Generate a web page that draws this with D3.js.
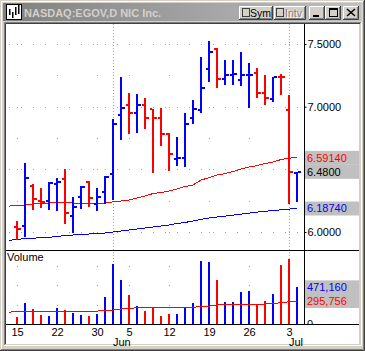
<!DOCTYPE html>
<html lang="en">
<head>
<meta charset="UTF-8"/>
<title>NASDAQ:EGOV daily bars</title>
<script src="https://d3js.org/d3.v7.min.js"></script>
<style>
	body{ margin:0; background:#d4d0c8; }
	svg{ display:block; }
	text{ font-family:"Liberation Sans", Arial, sans-serif; font-size:11px; }
</style>
</head>
<body>
<script>
// trading days, May 12 2000 .. Jul 5 2000 (first day only carries the averages)
var dates = ["05-12","05-15","05-16","05-17","05-18","05-19","05-22","05-23","05-24","05-25","05-26",
	"05-30","05-31","06-01","06-02","06-05","06-06","06-07","06-08","06-09","06-12","06-13","06-14",
	"06-15","06-16","06-19","06-20","06-21","06-22","06-23","06-26","06-27","06-28","06-29","06-30",
	"07-03","07-05"];
var opens  = [null,6.04,6.05,6.37,6.25,6.25,6.38,6.42,6.13,6.28,6.40,6.22,6.32,6.46,6.93,7.01,6.95,7.01,6.98,6.91,
	6.78,6.58,6.59,6.91,6.97,7.30,7.46,7.22,7.25,7.21,7.25,7.27,7.11,7.06,7.24,6.97,6.47];
var highs  = [null,6.09,6.55,6.38,6.35,6.40,6.43,6.50,6.28,6.37,6.41,6.35,6.45,6.90,7.24,7.11,7.10,7.07,6.98,6.99,
	6.79,6.76,6.95,7.05,7.40,7.52,7.47,7.37,7.37,7.44,7.35,7.31,7.25,7.24,7.26,7.09,6.48];
var lows   = [null,5.94,5.96,6.17,6.19,6.18,6.17,6.06,5.99,6.19,6.20,6.17,6.23,6.25,6.74,6.78,6.79,6.82,6.47,6.69,
	6.49,6.53,6.52,6.86,6.95,7.19,7.15,7.17,7.17,7.17,6.99,7.07,7.01,7.04,7.09,6.22,6.24];
var closes = [null,6.02,6.43,6.26,6.24,6.39,6.40,6.15,6.20,6.36,6.27,6.28,6.44,6.86,6.99,6.95,7.01,6.91,6.91,6.78,
	6.62,6.59,6.86,6.98,7.15,7.44,7.22,7.25,7.26,7.25,7.25,7.11,7.07,7.24,7.235,6.48,6.48];
var maSlow = [5.934,5.940,5.948,5.950,5.956,5.958,5.964,5.972,5.976,5.982,5.984,5.990,5.992,6.000,6.008,6.016,
	6.024,6.032,6.040,6.048,6.056,6.068,6.076,6.088,6.100,6.112,6.120,6.127,6.135,6.143,6.151,6.159,6.165,
	6.171,6.177,6.183,6.1874];
var maFast = [6.207,6.211,6.215,6.223,6.227,6.231,6.233,6.233,6.231,6.229,6.229,6.231,6.231,6.241,6.247,6.255,
	6.271,6.287,6.307,6.315,6.327,6.343,6.363,6.375,6.414,6.434,6.454,6.466,6.482,6.502,6.518,6.530,6.546,
	6.558,6.578,6.590,6.5914];
var volumes = [null,94000,274000,197000,120000,107000,210000,180000,145000,120000,107000,129000,351000,776000,
	570000,373000,232000,167000,202000,107000,129000,129000,215000,274000,815000,802000,570000,287000,287000,
	412000,429000,254000,300000,390000,759000,840000,471160];
var volMA = [151000,167000,167000,167000,167000,167000,167000,167000,167000,167000,167000,167000,170000,180000,
	193000,197000,210000,210000,210000,210000,210000,210000,212000,215000,225000,230000,245000,245000,245000,
	245000,245000,254000,257000,262000,274000,285000,295756];
var weekDates = ["05-15","05-22","05-30","06-05","06-12","06-19","06-26","07-03"];
var monthDates = ["06-01","07-03"];
var monthNames = ["Jun","Jul"];
var priceTicks = [6, 7, 7.5];
var volTicks = [250000, 500000, 750000];

var w = 365, h = 351;
var RED = "#ff0000", BLUE = "#0000ff", GRID = "#a0a0a0";

var svg = d3.select("body").append("svg").attr("width", w).attr("height", h);

// ---- window chrome
svg.append("rect").attr("width", w).attr("height", h).attr("fill", "#d4d0c8");
svg.append("path").attr("d", "M1.5,349V1.5H363").attr("stroke", "#ffffff").attr("fill", "none");
svg.append("path").attr("d", "M0,350.5H364.5V0").attr("stroke", "#404040").attr("fill", "none");
svg.append("path").attr("d", "M1,349.5H363.5V1").attr("stroke", "#808080").attr("fill", "none");

var grad = svg.append("defs").append("linearGradient").attr("id", "tb");
grad.append("stop").attr("offset", "0").attr("stop-color", "#808080");
grad.append("stop").attr("offset", "1").attr("stop-color", "#c0c0c0");
svg.append("rect").attr("x", 3).attr("y", 3).attr("width", 358).attr("height", 18).attr("fill", "url(#tb)");

// icon
svg.append("rect").attr("x", 6.5).attr("y", 4.5).attr("width", 15).attr("height", 15)
	.attr("fill", "#fff").attr("stroke", "#000");
[[9,9,6],[12,12,6],[15,7,8],[18,5,9]].forEach(function(b){
	svg.append("rect").attr("x", b[0]).attr("y", b[1]).attr("width", 1.5).attr("height", b[2]).attr("fill", "#000");
});
svg.append("text").attr("x", 24).attr("y", 16.5).attr("fill", "#d4d0c8")
	.style("font-weight", "bold").style("font-size", "11px").text("NASDAQ:EGOV,D NIC Inc.");

function button(bx, by, bw, bh){
	var g = svg.append("g");
	g.append("rect").attr("x", bx).attr("y", by).attr("width", bw).attr("height", bh).attr("fill", "#d4d0c8");
	g.append("path").attr("d", "M" + (bx+0.5) + "," + (by+bh) + "V" + (by+0.5) + "H" + (bx+bw))
		.attr("stroke", "#fff").attr("fill", "none");
	g.append("path").attr("d", "M" + bx + "," + (by+bh-0.5) + "H" + (bx+bw-0.5) + "V" + by)
		.attr("stroke", "#404040").attr("fill", "none");
	g.append("path").attr("d", "M" + (bx+1) + "," + (by+bh-1.5) + "H" + (bx+bw-1.5) + "V" + (by+1))
		.attr("stroke", "#808080").attr("fill", "none");
	return g;
}
var bSym = button(239, 6, 34, 14);
bSym.append("rect").attr("x", 242.5).attr("y", 8.5).attr("width", 7).attr("height", 8)
	.attr("fill", "#d4d0c8").attr("stroke", "#404040");
bSym.append("text").attr("x", 250).attr("y", 17).attr("fill", "#000").style("font-size", "10.5px").text("Sym");
var bIntv = button(274, 6, 32, 14);
bIntv.append("rect").attr("x", 276.5).attr("y", 8.5).attr("width", 7).attr("height", 8)
	.attr("fill", "#d4d0c8").attr("stroke", "#404040");
bIntv.append("text").attr("x", 286).attr("y", 18).attr("fill", "#fff").style("font-size", "10.5px").text("Intv");
bIntv.append("text").attr("x", 285).attr("y", 17).attr("fill", "#808080").style("font-size", "10.5px").text("Intv");
var bMin = button(309, 6, 16, 14);
bMin.append("rect").attr("x", 313).attr("y", 15).attr("width", 6).attr("height", 2).attr("fill", "#000");
var bMax = button(325, 6, 16, 14);
bMax.append("rect").attr("x", 329.5).attr("y", 8.5).attr("width", 8).attr("height", 8)
	.attr("fill", "none").attr("stroke", "#000");
bMax.append("rect").attr("x", 329).attr("y", 8).attr("width", 9).attr("height", 2).attr("fill", "#000");
var bClose = button(343, 6, 16, 14);
bClose.append("path").attr("d", "M347,9L355,16M355,9L347,16").attr("stroke", "#000").attr("stroke-width", 1.6);

// ---- chart canvas
var cLeft = 6, cRight = 359, cTop = 24, cBottom = 344;
var axisX = 304, priceBottom = 250.5, volBottom = 324;
svg.append("rect").attr("x", cLeft).attr("y", cTop).attr("width", cRight - cLeft).attr("height", cBottom - cTop)
	.attr("fill", "#fff");
svg.append("path").attr("d", "M4.5," + (cBottom+1) + "V22.5H361").attr("stroke", "#808080").attr("fill", "none");
svg.append("path").attr("d", "M5.5," + cBottom + "V23.5H360").attr("stroke", "#404040").attr("fill", "none");
svg.append("path").attr("d", "M4," + (cBottom+1.5) + "H361.5V22").attr("stroke", "#fff").attr("fill", "none");

var x = d3.scalePoint().domain(dates).range([9, 297]);
var y = d3.scaleLinear().domain([6, 7.5]).range([232, 44]);
var yv = d3.scaleLinear().domain([0, 750000]).range([volBottom, 265.7]);

var idx = d3.range(dates.length);
var bars = idx.filter(function(i){ return opens[i] != null; });

// ---- grid
var grid = svg.append("g").attr("stroke", GRID).attr("fill", "none");
d3.range(6, 7.51, 0.25).forEach(function(v){
	var major = Math.abs(v * 2 - Math.round(v * 2)) < 1e-6;
	if (major){
		grid.append("line").attr("x1", 9).attr("x2", axisX).attr("y1", Math.round(y(v)) + 0.5)
			.attr("y2", Math.round(y(v)) + 0.5).attr("stroke-dasharray", "1,11");
	}
	weekDates.forEach(function(d){
		grid.append("rect").attr("x", x(d)).attr("y", Math.round(y(v))).attr("width", 1).attr("height", 1)
			.attr("fill", GRID).attr("stroke", "none");
	});
});
volTicks.forEach(function(v){
	weekDates.forEach(function(d){
		grid.append("rect").attr("x", x(d)).attr("y", Math.round(yv(v))).attr("width", 1).attr("height", 1)
			.attr("fill", GRID).attr("stroke", "none");
	});
});
monthDates.forEach(function(d){
	grid.append("line").attr("x1", x(d) + 0.5).attr("x2", x(d) + 0.5).attr("y1", cTop).attr("y2", volBottom)
		.attr("stroke-dasharray", "1,2");
});

// ---- moving averages (price)
var line = d3.line().x(function(d, i){ return x(dates[i]); });
svg.append("path").datum(maFast).attr("d", line.y(function(d){ return y(d); }))
	.attr("fill", "none").attr("stroke", RED).attr("shape-rendering", "crispEdges");
svg.append("path").datum(maSlow).attr("d", line.y(function(d){ return y(d); }))
	.attr("fill", "none").attr("stroke", BLUE).attr("shape-rendering", "crispEdges");

// ---- OHLC bars
function col(i){ return closes[i] >= opens[i] ? BLUE : RED; }
var ohlc = svg.append("g").attr("shape-rendering", "crispEdges");
ohlc.selectAll(".hl").data(bars).enter().append("rect")
	.attr("x", function(i){ return x(dates[i]) - 1; })
	.attr("y", function(i){ return Math.round(y(highs[i])); })
	.attr("width", 2)
	.attr("height", function(i){ return Math.max(2, Math.round(y(lows[i]) - y(highs[i]))); })
	.attr("fill", col);
ohlc.selectAll(".op").data(bars).enter().append("rect")
	.attr("x", function(i){ return x(dates[i]) - 3; })
	.attr("y", function(i){ return Math.round(y(opens[i])) - 1; })
	.attr("width", 2).attr("height", 2).attr("fill", col);
ohlc.selectAll(".cl").data(bars).enter().append("rect")
	.attr("x", function(i){ return x(dates[i]) + 1; })
	.attr("y", function(i){ return Math.round(y(closes[i])) - 1; })
	.attr("width", 3).attr("height", 2).attr("fill", col);

// ---- volume
svg.selectAll(".vol").data(bars).enter().append("rect")
	.attr("x", function(i){ return x(dates[i]) - 1; })
	.attr("y", function(i){ return Math.round(yv(volumes[i])); })
	.attr("width", 2)
	.attr("height", function(i){ return volBottom - Math.round(yv(volumes[i])); })
	.attr("fill", col).attr("shape-rendering", "crispEdges");
svg.append("path").datum(volMA).attr("d", line.y(function(d){ return yv(d); }))
	.attr("fill", "none").attr("stroke", RED).attr("shape-rendering", "crispEdges");
svg.append("text").attr("x", 7).attr("y", 261).attr("fill", "#000").text("Volume");

// ---- frame lines
svg.append("line").attr("x1", cLeft).attr("x2", cRight).attr("y1", priceBottom).attr("y2", priceBottom)
	.attr("stroke", "#000");
svg.append("line").attr("x1", cLeft).attr("x2", cRight).attr("y1", volBottom + 0.5).attr("y2", volBottom + 0.5)
	.attr("stroke", "#000");
svg.append("line").attr("x1", axisX + 0.5).attr("x2", axisX + 0.5).attr("y1", cTop).attr("y2", volBottom)
	.attr("stroke", "#000");

// ---- right price axis
var pAxis = svg.append("g").attr("transform", "translate(" + (axisX + 0.5) + ",0)")
	.call(d3.axisRight(y).tickValues(priceTicks).tickSize(2).tickPadding(1).tickFormat(d3.format(".4f")));
pAxis.select(".domain").remove();
pAxis.selectAll("text").attr("fill", "#000").style("font-size", "11px")
	.style("font-family", "'Liberation Sans', Arial, sans-serif");

// value boxes
function tag(v, txt, c, sc){
	var yy = sc(v);
	svg.append("rect").attr("x", 305).attr("y", yy - 7).attr("width", cRight - 305).attr("height", 14)
		.attr("fill", "#c0c0c0");
	svg.append("text").attr("x", 307).attr("y", yy).attr("dy", "0.35em").attr("fill", c).text(txt);
}
tag(maFast[maFast.length - 1], d3.format(".5f")(maFast[maFast.length - 1]), RED, y);
tag(closes[closes.length - 1], d3.format(".4f")(closes[closes.length - 1]), "#000", y);
tag(maSlow[maSlow.length - 1], d3.format(".5f")(maSlow[maSlow.length - 1]), BLUE, y);
tag(volumes[volumes.length - 1], d3.format(",")(volumes[volumes.length - 1]), BLUE, yv);
tag(volMA[volMA.length - 1], d3.format(",")(volMA[volMA.length - 1]), RED, yv);

// volume zero label, clipped by the baseline
svg.append("clipPath").attr("id", "vclip").append("rect")
	.attr("x", axisX).attr("y", priceBottom).attr("width", 60).attr("height", volBottom - priceBottom);
svg.append("text").attr("clip-path", "url(#vclip)").attr("x", 307).attr("y", yv(0)).attr("dy", "0.35em")
	.attr("fill", "#000").text("0");

// ---- date axis
var xAxis = svg.append("g").attr("transform", "translate(0," + volBottom + ")")
	.call(d3.axisBottom(x).tickValues(weekDates).tickSize(0).tickPadding(4)
		.tickFormat(function(d){ return +d.split("-")[1]; }));
xAxis.select(".domain").remove();
xAxis.selectAll("text").attr("fill", "#000").style("font-size", "11px")
	.style("font-family", "'Liberation Sans', Arial, sans-serif");
svg.selectAll(".month").data(monthDates).enter().append("text")
	.attr("x", function(d){ return x(d); }).attr("y", 345.5)
	.attr("fill", "#000").text(function(d, i){ return monthNames[i]; });
</script>
</body>
</html>
